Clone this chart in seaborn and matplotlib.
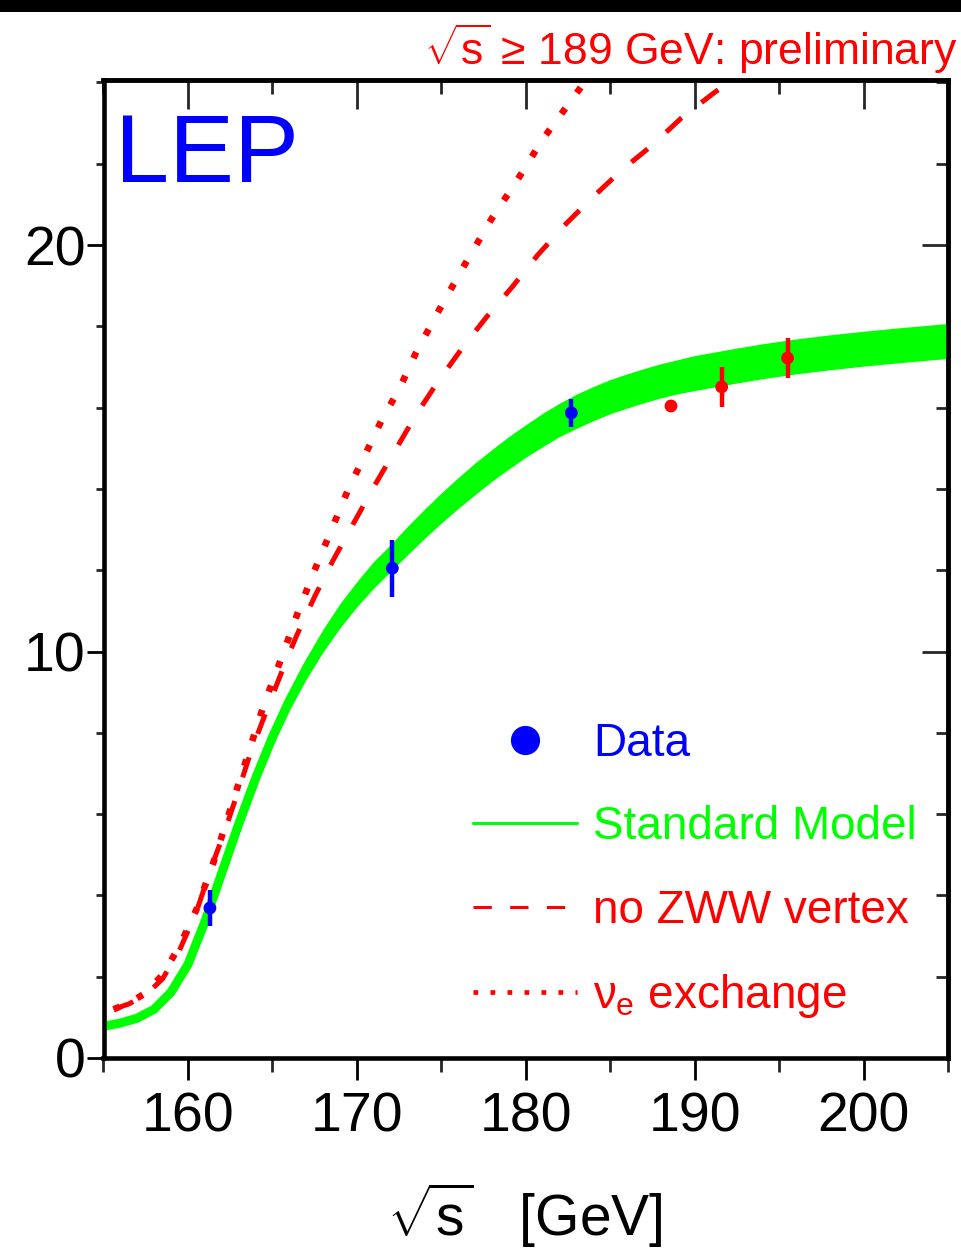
import numpy as np
import pandas as pd
import matplotlib
matplotlib.use("Agg")
import matplotlib.pyplot as plt
import seaborn as sns
from matplotlib.lines import Line2D
from matplotlib.patches import Rectangle
from matplotlib.ticker import MultipleLocator

# ---------------- data ----------------
sm_x = [155, 156, 157, 158, 159, 160, 161, 162, 163, 164, 165, 166, 167, 168, 169, 170,
        171, 172, 173, 174, 175, 176, 177, 178, 179, 180, 181, 182, 183, 184, 185, 186,
        187, 188, 189, 190, 192, 194, 196, 198, 200, 202, 205]
sm_y = [0.78, 0.86, 0.98, 1.2, 1.62, 2.3, 3.35, 4.55, 5.75, 6.87, 7.89, 8.79, 9.58, 10.27,
        10.88, 11.41, 11.89, 12.3, 12.73, 13.14, 13.53, 13.9, 14.25, 14.58, 14.89, 15.18,
        15.45, 15.7, 15.91, 16.1, 16.27, 16.41, 16.54, 16.66, 16.76, 16.85, 17.0, 17.14,
        17.26, 17.36, 17.45, 17.53, 17.64]
sm_hw = [0.08, 0.08, 0.08, 0.08, 0.08, 0.1, 0.12, 0.15, 0.18, 0.2, 0.22, 0.24, 0.26, 0.28,
         0.3, 0.31, 0.33, 0.33, 0.35, 0.36, 0.37, 0.38, 0.39, 0.39, 0.4, 0.4,
         0.41, 0.41, 0.42, 0.42, 0.42, 0.42, 0.42, 0.42, 0.42, 0.43, 0.43, 0.43,
         0.43, 0.43, 0.43, 0.43, 0.43]

nozww_x = [155.6, 156.5, 157.5, 158.5, 159.5, 160.5, 161.4, 162.2, 163.0, 163.7, 164.7,
           165.6, 166.4, 167.5, 168.6, 169.8, 171.0, 172.2, 173.5, 174.8, 176.3, 177.7,
           179.2, 180.7, 182.4, 184.0, 185.7, 187.5, 189.2, 191.1, 193.0]
nozww_y = [1.2, 1.33, 1.55, 1.95, 2.65, 3.6, 4.71, 5.61, 6.6, 7.5, 8.6, 9.55, 10.36, 11.35,
           12.25, 13.15, 14.05, 14.9, 15.82, 16.64, 17.5, 18.24, 18.97, 19.75, 20.53,
           21.19, 21.85, 22.46, 23.12, 23.73, 24.3]

nue_x = [155.6, 156.5, 157.5, 158.5, 159.5, 160.5, 161.5, 162.5, 163.5, 164.5, 165.5,
         166.5, 167.5, 168.5, 169.5, 170.5, 171.5, 172.5, 173.5, 175.0, 176.5, 178.0,
         179.5, 181.0, 182.5, 184.0]
nue_y = [1.2, 1.35, 1.6, 2.05, 2.75, 3.65, 4.8, 6.1, 7.4, 8.7, 9.8, 10.95, 12.0, 13.0,
         14.0, 14.85, 15.72, 16.45, 17.35, 18.5, 19.6, 20.66, 21.6, 22.6, 23.45, 24.3]

lep_x = [161.3, 172.1, 182.7]
lep_y = [3.69, 12.05, 15.87]
lep_err = [0.44, 0.7, 0.35]

prel_x = [188.6, 191.6, 195.5]
prel_y = [16.04, 16.51, 17.22]
prel_err = [0.15, 0.5, 0.5]

xticks = [160, 170, 180, 190, 200]
yticks = [0, 10, 20]

# ---------------- style ----------------
sns.set_theme(style="white")
plt.rcParams["font.family"] = ["Liberation Sans", "DejaVu Sans"]
plt.rcParams["mathtext.fontset"] = "custom"
plt.rcParams["mathtext.rm"] = "Liberation Sans"
plt.rcParams["mathtext.it"] = "Liberation Sans"
plt.rcParams["mathtext.bf"] = "Liberation Sans"

BLUE = "#0000ff"
RED = "#ff0000"
GREEN = "#00ff00"

W, H = 962, 1252
fig = plt.figure(figsize=(W / 100, H / 100), dpi=100)
fig.patch.set_facecolor("white")
fig.patches.append(Rectangle((0, 1 - 12 / H), 1, 12 / H, transform=fig.transFigure,
                             facecolor="black", edgecolor="none", zorder=0))

L, R, T, B = 103.5, 948, 80, 1058
ax = fig.add_axes([L / W, 1 - B / H, (R - L) / W, (B - T) / H])
ax.set_facecolor("white")

sm_df = pd.DataFrame({"x": sm_x, "y": sm_y})
lo = [y - h for y, h in zip(sm_y, sm_hw)]
hi = [y + h for y, h in zip(sm_y, sm_hw)]
ax.fill_between(sm_x, lo, hi, color=GREEN, lw=0, zorder=2)
sns.lineplot(data=sm_df, x="x", y="y", color=GREEN, lw=6.5, ax=ax, zorder=2,
             solid_capstyle="butt")

sns.lineplot(x=nozww_x, y=nozww_y, color=RED, lw=3.6, ax=ax, zorder=3,
             linestyle=(0, (4.2, 5.0)))
sns.lineplot(x=nue_x, y=nue_y, color=RED, lw=4.8, ax=ax, zorder=3,
             linestyle=(0, (1.0, 2.9)))

ax.errorbar(lep_x, lep_y, yerr=lep_err, fmt="none", ecolor=BLUE, elinewidth=3.2,
            capsize=0, zorder=5)
ax.errorbar(prel_x, prel_y, yerr=prel_err, fmt="none", ecolor=RED, elinewidth=3.2,
            capsize=0, zorder=5)
sns.scatterplot(x=lep_x, y=lep_y, color=BLUE, s=85, marker="o", edgecolor="none",
                ax=ax, zorder=6)
sns.scatterplot(x=prel_x, y=prel_y, color=RED, s=85, marker="o", edgecolor="none",
                ax=ax, zorder=6)

ax.set_xlim(155, 205)
ax.set_ylim(0, 24.06)
ax.set_xlabel("")
ax.set_ylabel("")

ax.xaxis.set_minor_locator(MultipleLocator(5))
ax.yaxis.set_minor_locator(MultipleLocator(2))
ax.set_xticks(xticks)
ax.set_yticks(yticks)
ax.set_xticklabels([str(v) for v in xticks])
ax.set_yticklabels([str(v) for v in yticks])

for s in ax.spines.values():
    s.set_visible(True)
    s.set_linewidth(3.3)
    s.set_color("black")

ax.tick_params(axis="x", which="major", direction="out", length=16, width=2,
               labelsize=40, pad=8, colors="black", bottom=True, top=False)
ax.tick_params(axis="x", which="minor", direction="out", length=10, width=2,
               bottom=True, top=False)
ax.tick_params(axis="y", which="major", direction="out", length=12, width=2,
               labelsize=40, pad=1, colors="black", left=True, right=False)
ax.tick_params(axis="y", which="minor", direction="out", length=6, width=2,
               left=True, right=False)

secx = ax.secondary_xaxis("top")
secx.xaxis.set_major_locator(MultipleLocator(10))
secx.xaxis.set_minor_locator(MultipleLocator(5))
secx.tick_params(axis="x", which="major", direction="in", length=21, width=2,
                 labeltop=False)
secx.tick_params(axis="x", which="minor", direction="in", length=10, width=2)
secx.spines["top"].set_linewidth(3.3)

secy = ax.secondary_yaxis("right")
secy.yaxis.set_major_locator(MultipleLocator(10))
secy.yaxis.set_minor_locator(MultipleLocator(2))
secy.tick_params(axis="y", which="major", direction="in", length=19, width=2,
                 labelright=False)
secy.tick_params(axis="y", which="minor", direction="in", length=9, width=2)
secy.spines["right"].set_linewidth(3.3)

# texts
ax.text(0.0136, 0.8957, "LEP", transform=ax.transAxes, fontsize=70, color=BLUE,
        ha="left", va="baseline")
fig.text(958 / W, 1 - 65 / H, r"$\sqrt{s}$ ≥ 189 GeV: preliminary", color=RED,
         fontsize=32, ha="right", va="baseline")
fig.text(525 / W, 1 - 1236 / H, r"$\sqrt{s}$   [GeV]", color="black", fontsize=41,
         ha="center", va="baseline")

# legend
FS = 33
handles = [
    Line2D([], [], color=BLUE, marker="o", markersize=20, linestyle="none"),
    Line2D([], [], color=GREEN, lw=2.2),
    Line2D([], [], color=RED, lw=2.2, linestyle=(0, (6, 6))),
    Line2D([], [], color=RED, lw=3.4, linestyle=(0, (1.0, 2.6))),
]
labels = ["Data", "Standard Model", "no ZWW vertex", r"$\nu_{e}$ exchange"]
leg = ax.legend(handles, labels, loc="upper left",
                bbox_to_anchor=((473 - L) / (R - L), (B - 722) / (B - T)),
                frameon=False, fontsize=FS, handlelength=2.27, handletextpad=0.35,
                labelspacing=0.86, borderpad=0, borderaxespad=0)
for t, c in zip(leg.get_texts(), [BLUE, GREEN, RED, RED]):
    t.set_color(c)

fig.savefig("out.png", dpi=100, facecolor="white")
